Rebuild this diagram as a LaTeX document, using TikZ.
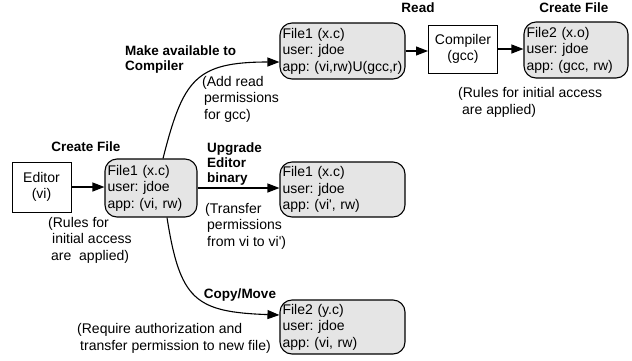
\documentclass[tikz,border=0pt]{standalone}
\usepackage{fontspec}
\setmainfont{Liberation Sans}
\usetikzlibrary{arrows.meta}
\frenchspacing
\begin{document}
\begin{tikzpicture}[x=1pt,y=-1pt,
  every node/.style={inner sep=0pt},
  boxtxt/.style={font=\fontsize{14}{16.5}\selectfont\frenchspacing},
  filebox/.style={boxtxt,draw,line width=1.1pt,rounded corners=12pt,fill=black!10,
     align=left,inner xsep=2.5pt,minimum height=#1},
  procbox/.style={boxtxt,draw,line width=1pt,fill=white,align=center},
  lbl/.style={font=\fontsize{13.5}{15}\selectfont\bfseries\frenchspacing,align=left},
  ann/.style={font=\fontsize{14}{16.5}\selectfont\frenchspacing,align=left},
  arr/.style={line width=1.1pt,-{Triangle[length=12pt,width=9pt]}}]
\useasboundingbox (0,0) rectangle (632,360);

% process boxes
\node[procbox,minimum width=59pt,minimum height=50pt] (editor) at (41.5,187) {Editor\\(vi)};
\node[procbox,minimum width=69pt,minimum height=48pt] (compiler) at (463,49) {Compiler\\(gcc)};

% file boxes
\node[filebox=58pt,text width=87pt] (f1c) at (151,188) {File1 (x.c)\\user: jdoe\\app: (vi, rw)};
\node[filebox=56pt,text width=120pt] (f1t) at (342.5,51) {File1 (x.c)\\user: jdoe\\app: (vi,rw)U(gcc,r)};
\node[filebox=55pt,text width=120pt] (f1m) at (342.5,189.5) {File1 (x.c)\\user: jdoe\\app: (vi\textquotesingle, rw)};
\node[filebox=54pt,text width=120pt] (f2yc) at (342.5,327) {File2 (y.c)\\user: jdoe\\app: (vi, rw)};
\node[filebox=56pt,text width=99pt] (f2xo) at (576,50) {File2 (x.o)\\user: jdoe\\app: (gcc, rw)};

% connectors
\draw[arr] (editor.east) -- (editor.east -| f1c.west);
\draw[arr] (f1c.east) -- (f1c.east -| f1m.west);
\draw[arr] (f1t.east) -- (f1t.east -| compiler.west);
\draw[arr] (compiler.east) -- (compiler.east -| f2xo.west);
\draw[arr] ([xshift=12pt]f1c.north) .. controls (183,80) and (195,62) .. ([yshift=-11pt]f1t.west);
\draw[arr] ([xshift=16pt]f1c.south) .. controls (180,300) and (195,312) .. ([yshift=12pt]f2yc.west);

% bold labels
\node[lbl] (lcreate1) at (86,147) {Create File};
\node[lbl,anchor=base west] (lmake) at (125,70) {Make available to\\Compiler};
\node[lbl,anchor=base west] (lupgrade) at (207,182) {Upgrade\\Editor\\binary};
\node[lbl] (lread) at (418,8) {Read};
\node[lbl] (lcreate2) at (574,8) {Create File};
\node[lbl] (lcopy) at (240,295) {Copy/Move};

% annotations
\node[ann,anchor=base west] (aadd) at (202,119) {(Add read\\\hspace{2pt}permissions\\\hspace{2pt}for gcc)};
\node[ann,anchor=base west] (atransfer) at (205,246) {(Transfer\\\hspace{2pt}permissions\\\hspace{2pt}from vi to vi\textquotesingle)};
\node[ann,anchor=base west] (arules1) at (48,260) {(Rules for\\\hspace{4pt}initial access\\\hspace{3pt}are\ \ applied)};
\node[ann,anchor=base west] (arules2) at (458,114) {(Rules for initial access\\\hspace{4pt}are applied)};
\node[ann,anchor=base west] (areq) at (77,350) {(Require authorization and\\\hspace{3pt}transfer permission to new file)};
\end{tikzpicture}
\end{document}
